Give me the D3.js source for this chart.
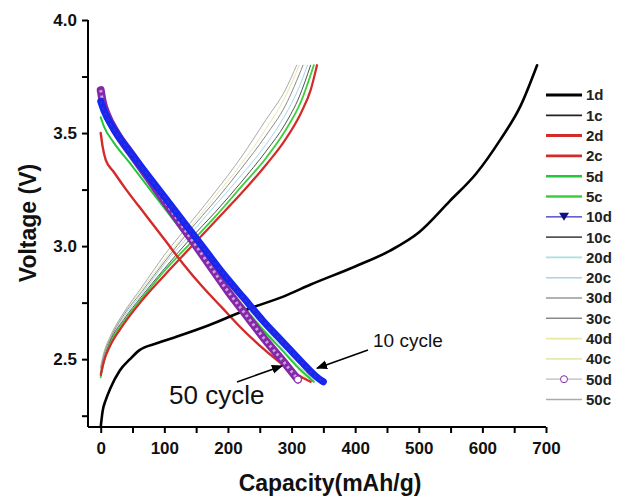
<!DOCTYPE html>
<html>
<head>
<meta charset="utf-8">
<script src="https://cdn.jsdelivr.net/npm/d3@7"></script>
<style>
  body { margin: 0; background: #fff; }
  text { font-family: Arial, "Liberation Sans", sans-serif; }
</style>
</head>
<body>
<svg id="chart" width="619" height="500"></svg>
<script>
// capacity (mAh/g), voltage (V) pairs
const s1d = [[0,2.20],[3,2.27],[8,2.32],[15,2.37],[30,2.45],[46,2.50],[61,2.54],[88,2.57],[120,2.60],[170,2.65],[230,2.72],[290,2.78],[330,2.83],[400,2.91],[455,2.98],[500,3.06],[549,3.20],[590,3.32],[628,3.47],[660,3.62],[686,3.80]];
const s1c = [[0,3.66],[10,3.59],[30,3.50],[60,3.38],[100,3.23],[140,3.07],[180,2.93],[220,2.79],[260,2.66],[300,2.54],[330,2.45]];
const s2d = [[0,3.50],[3,3.44],[8,3.38],[20,3.33],[40,3.25],[70,3.14],[100,3.03],[130,2.92],[160,2.82],[190,2.73],[220,2.64],[250,2.56],[280,2.49],[310,2.43],[330,2.40]];
const s2c = [[0,2.43],[5,2.49],[15,2.56],[35,2.65],[65,2.76],[100,2.87],[140,2.99],[180,3.11],[220,3.23],[260,3.36],[290,3.47],[315,3.59],[330,3.69],[340,3.80]];
const s5d = [[0,3.57],[5,3.53],[20,3.46],[45,3.37],[75,3.26],[105,3.15],[135,3.04],[165,2.93],[195,2.83],[225,2.73],[255,2.63],[285,2.54],[315,2.45],[335,2.40]];
const s5c = [[0,2.42],[5,2.49],[15,2.57],[35,2.66],[65,2.77],[100,2.89],[140,3.01],[180,3.13],[220,3.26],[260,3.39],[290,3.51],[315,3.64],[335,3.80]];
const s10d = [[0,3.64],[5,3.60],[20,3.52],[45,3.42],[75,3.31],[105,3.20],[135,3.09],[165,2.98],[195,2.87],[225,2.77],[255,2.67],[285,2.58],[315,2.49],[340,2.42],[350,2.40]];
const s10c = [[0,2.44],[5,2.50],[15,2.58],[35,2.67],[65,2.78],[100,2.90],[140,3.03],[180,3.15],[220,3.28],[260,3.42],[290,3.54],[312,3.66],[330,3.80]];
const s20d = [[0,3.62],[5,3.58],[20,3.50],[45,3.40],[75,3.29],[105,3.18],[135,3.07],[165,2.96],[195,2.85],[225,2.75],[255,2.65],[285,2.55],[315,2.46],[335,2.41]];
const s20c = [[0,2.45],[5,2.51],[15,2.58],[35,2.68],[65,2.79],[100,2.92],[140,3.05],[180,3.18],[220,3.31],[260,3.45],[290,3.58],[310,3.69],[325,3.80]];
const s30d = [[0,3.63],[5,3.59],[20,3.51],[45,3.41],[75,3.30],[105,3.19],[135,3.08],[165,2.97],[195,2.86],[225,2.76],[255,2.66],[285,2.56],[315,2.47],[330,2.42]];
const s30c = [[0,2.46],[5,2.52],[15,2.59],[35,2.69],[65,2.80],[100,2.93],[140,3.07],[180,3.20],[220,3.34],[260,3.49],[290,3.62],[318,3.80]];
const s40d = [[0,3.65],[5,3.60],[20,3.52],[45,3.42],[75,3.31],[105,3.19],[135,3.08],[165,2.96],[195,2.85],[225,2.74],[255,2.64],[285,2.54],[315,2.44],[325,2.41]];
const s40c = [[0,2.46],[5,2.52],[15,2.60],[35,2.70],[65,2.81],[100,2.94],[140,3.08],[180,3.22],[220,3.36],[260,3.52],[290,3.66],[312,3.80]];
const s50d = [[0,3.69],[3,3.64],[10,3.58],[25,3.50],[50,3.40],[80,3.28],[110,3.16],[140,3.04],[170,2.92],[200,2.80],[230,2.69],[260,2.58],[290,2.48],[310,2.41]];
const s50c = [[0,2.47],[5,2.53],[15,2.60],[35,2.70],[65,2.82],[100,2.96],[140,3.10],[180,3.24],[220,3.39],[260,3.56],[290,3.69],[308,3.80]];

const seriesNames = ["1d","1c","2d","2c","5d","5c","10d","10c","20d","20c","30d","30c","40d","40c","50d","50c"];
const seriesData = [s1d,s1c,s2d,s2c,s5d,s5c,s10d,s10c,s20d,s20c,s30d,s30c,s40d,s40c,s50d,s50c];

const xTicks = [0,100,200,300,400,500,600,700];
const yTicks = [2.5,3.0,3.5,4.0];

const annotations = [
  {label: "10 cycle", at: [340, 2.46], from: [368, 350], text: [373, 347], size: 19},
  {label: "50 cycle", at: [285, 2.47], from: [237, 382], text: [169, 404], size: 26}
];

// look of each series, same order as seriesNames
const styles = [
  {color: "#000", w: 2.6},
  {color: "#222", w: 1.2},
  {color: "#d42a2a", w: 2.4},
  {color: "#d42a2a", w: 2.2},
  {color: "#22c83a", w: 2},
  {color: "#3ccf3c", w: 1.8},
  {color: "#1428f0", w: 7, marker: "tri"},
  {color: "#555", w: 1},
  {color: "#a8e0e0", w: 1},
  {color: "#a8d4e8", w: 1},
  {color: "#999", w: 1},
  {color: "#8a8a8a", w: 1},
  {color: "#e8e8a0", w: 1},
  {color: "#e4e8b0", w: 1},
  {color: "#8428a8", w: 8, marker: "circ"},
  {color: "#aaa", w: 1}
];

const svg = d3.select("#chart");

const x = d3.scaleLinear().domain([-20, 700]).range([88, 546]);
const y = d3.scaleLinear().domain([2.2, 4.0]).range([427, 20]);

const line = d3.line()
  .x(d => x(d[0]))
  .y(d => y(d[1]))
  .curve(d3.curveMonotoneX);

// draw order: faint ones first, bold ones on top
const order = [8,9,10,12,13,11,7,15,1,5,3,4,2,0,14,6];
const plot = svg.append("g");

order.forEach(i => {
  const st = styles[i];
  plot.append("path")
    .attr("d", line(seriesData[i]))
    .attr("fill", "none")
    .attr("stroke", st.color)
    .attr("stroke-width", st.w)
    .attr("stroke-linecap", "round");
  if (st.marker === "circ") {
    // open circles packed along the curve give it a beaded look
    plot.append("path")
      .attr("d", line(seriesData[i]))
      .attr("fill", "none")
      .attr("stroke", "#c9a0e0")
      .attr("stroke-width", 3)
      .attr("stroke-dasharray", "2.5,3");
    const last = seriesData[i][seriesData[i].length - 1];
    plot.append("circle")
      .attr("cx", x(last[0])).attr("cy", y(last[1])).attr("r", 3.5)
      .attr("fill", "#fff").attr("stroke", "#8428a8").attr("stroke-width", 1);
  }
  if (st.marker === "tri") {
    plot.append("path")
      .attr("d", line(seriesData[i]))
      .attr("fill", "none")
      .attr("stroke", "#3a2bd8")
      .attr("stroke-width", 2)
      .attr("stroke-dasharray", "3,3");
  }
});

// axes
const xAxis = d3.axisBottom(x)
  .tickValues(d3.range(0, 701, 50))
  .tickSize(6)
  .tickFormat(d => xTicks.includes(d) ? d : "");
const yAxis = d3.axisLeft(y)
  .tickValues([2.25,2.5,2.75,3.0,3.25,3.5,3.75,4.0])
  .tickSize(6)
  .tickFormat(d => yTicks.includes(d) ? d3.format(".1f")(d) : "");

const gx = svg.append("g").attr("transform", "translate(0,427)").call(xAxis);
const gy = svg.append("g").attr("transform", "translate(88,0)").call(yAxis);

[gx, gy].forEach(g => {
  g.select(".domain").attr("stroke", "#000").attr("stroke-width", 2);
  g.selectAll(".tick line").attr("stroke", "#000").attr("stroke-width", 2);
  g.selectAll(".tick text")
    .attr("fill", "#111")
    .style("font-size", "17px")
    .style("font-weight", "bold");
});
gx.select(".domain").attr("d", "M88,0H546");
gy.select(".domain").attr("d", "M0,427V20");
gx.selectAll(".tick text").attr("dy", "1.05em");
gy.selectAll(".tick text").attr("dx", "-2");

svg.append("text")
  .attr("x", 330).attr("y", 491)
  .attr("text-anchor", "middle")
  .style("font-size", "23px").style("font-weight", "bold")
  .attr("fill", "#111")
  .text("Capacity(mAh/g)");

svg.append("text")
  .attr("transform", "translate(36,223) rotate(-90)")
  .attr("text-anchor", "middle")
  .style("font-size", "23px").style("font-weight", "bold")
  .attr("fill", "#111")
  .text("Voltage (V)");

// annotations
svg.append("defs").append("marker")
  .attr("id", "arrow")
  .attr("viewBox", "0 0 10 10")
  .attr("refX", 9).attr("refY", 5)
  .attr("markerWidth", 7).attr("markerHeight", 7)
  .attr("orient", "auto")
  .append("path").attr("d", "M0,1L10,5L0,9z").attr("fill", "#000");

annotations.forEach(a => {
  svg.append("line")
    .attr("x1", a.from[0]).attr("y1", a.from[1])
    .attr("x2", x(a.at[0])).attr("y2", y(a.at[1]))
    .attr("stroke", "#000").attr("stroke-width", 1.6)
    .attr("marker-end", "url(#arrow)");
  svg.append("text")
    .attr("x", a.text[0]).attr("y", a.text[1])
    .style("font-size", a.size + "px")
    .attr("fill", "#111")
    .text(a.label);
});

// legend
const legend = svg.append("g").attr("transform", "translate(546,95)");
seriesNames.forEach((name, i) => {
  const st = styles[i];
  const g = legend.append("g").attr("transform", `translate(0,${i * 20.3})`);
  g.append("line")
    .attr("x1", 0).attr("x2", 36)
    .attr("stroke", st.marker ? (st.marker === "tri" ? "#3030c0" : "#bbb") : st.color)
    .attr("stroke-width", st.marker ? 1.2 : Math.min(st.w + 0.6, 3));
  if (st.marker === "tri") {
    g.append("path").attr("d", "M13,-4L23,-4L18,4z").attr("fill", "#101080");
  }
  if (st.marker === "circ") {
    g.append("circle").attr("cx", 18).attr("cy", 0).attr("r", 3.5)
      .attr("fill", "#fff").attr("stroke", "#8428a8");
  }
  g.append("text")
    .attr("x", 40).attr("y", 0).attr("dy", "0.36em")
    .style("font-size", "15px")
    .style("font-weight", "bold")
    .attr("fill", "#222")
    .text(name);
});
</script>
</body>
</html>
